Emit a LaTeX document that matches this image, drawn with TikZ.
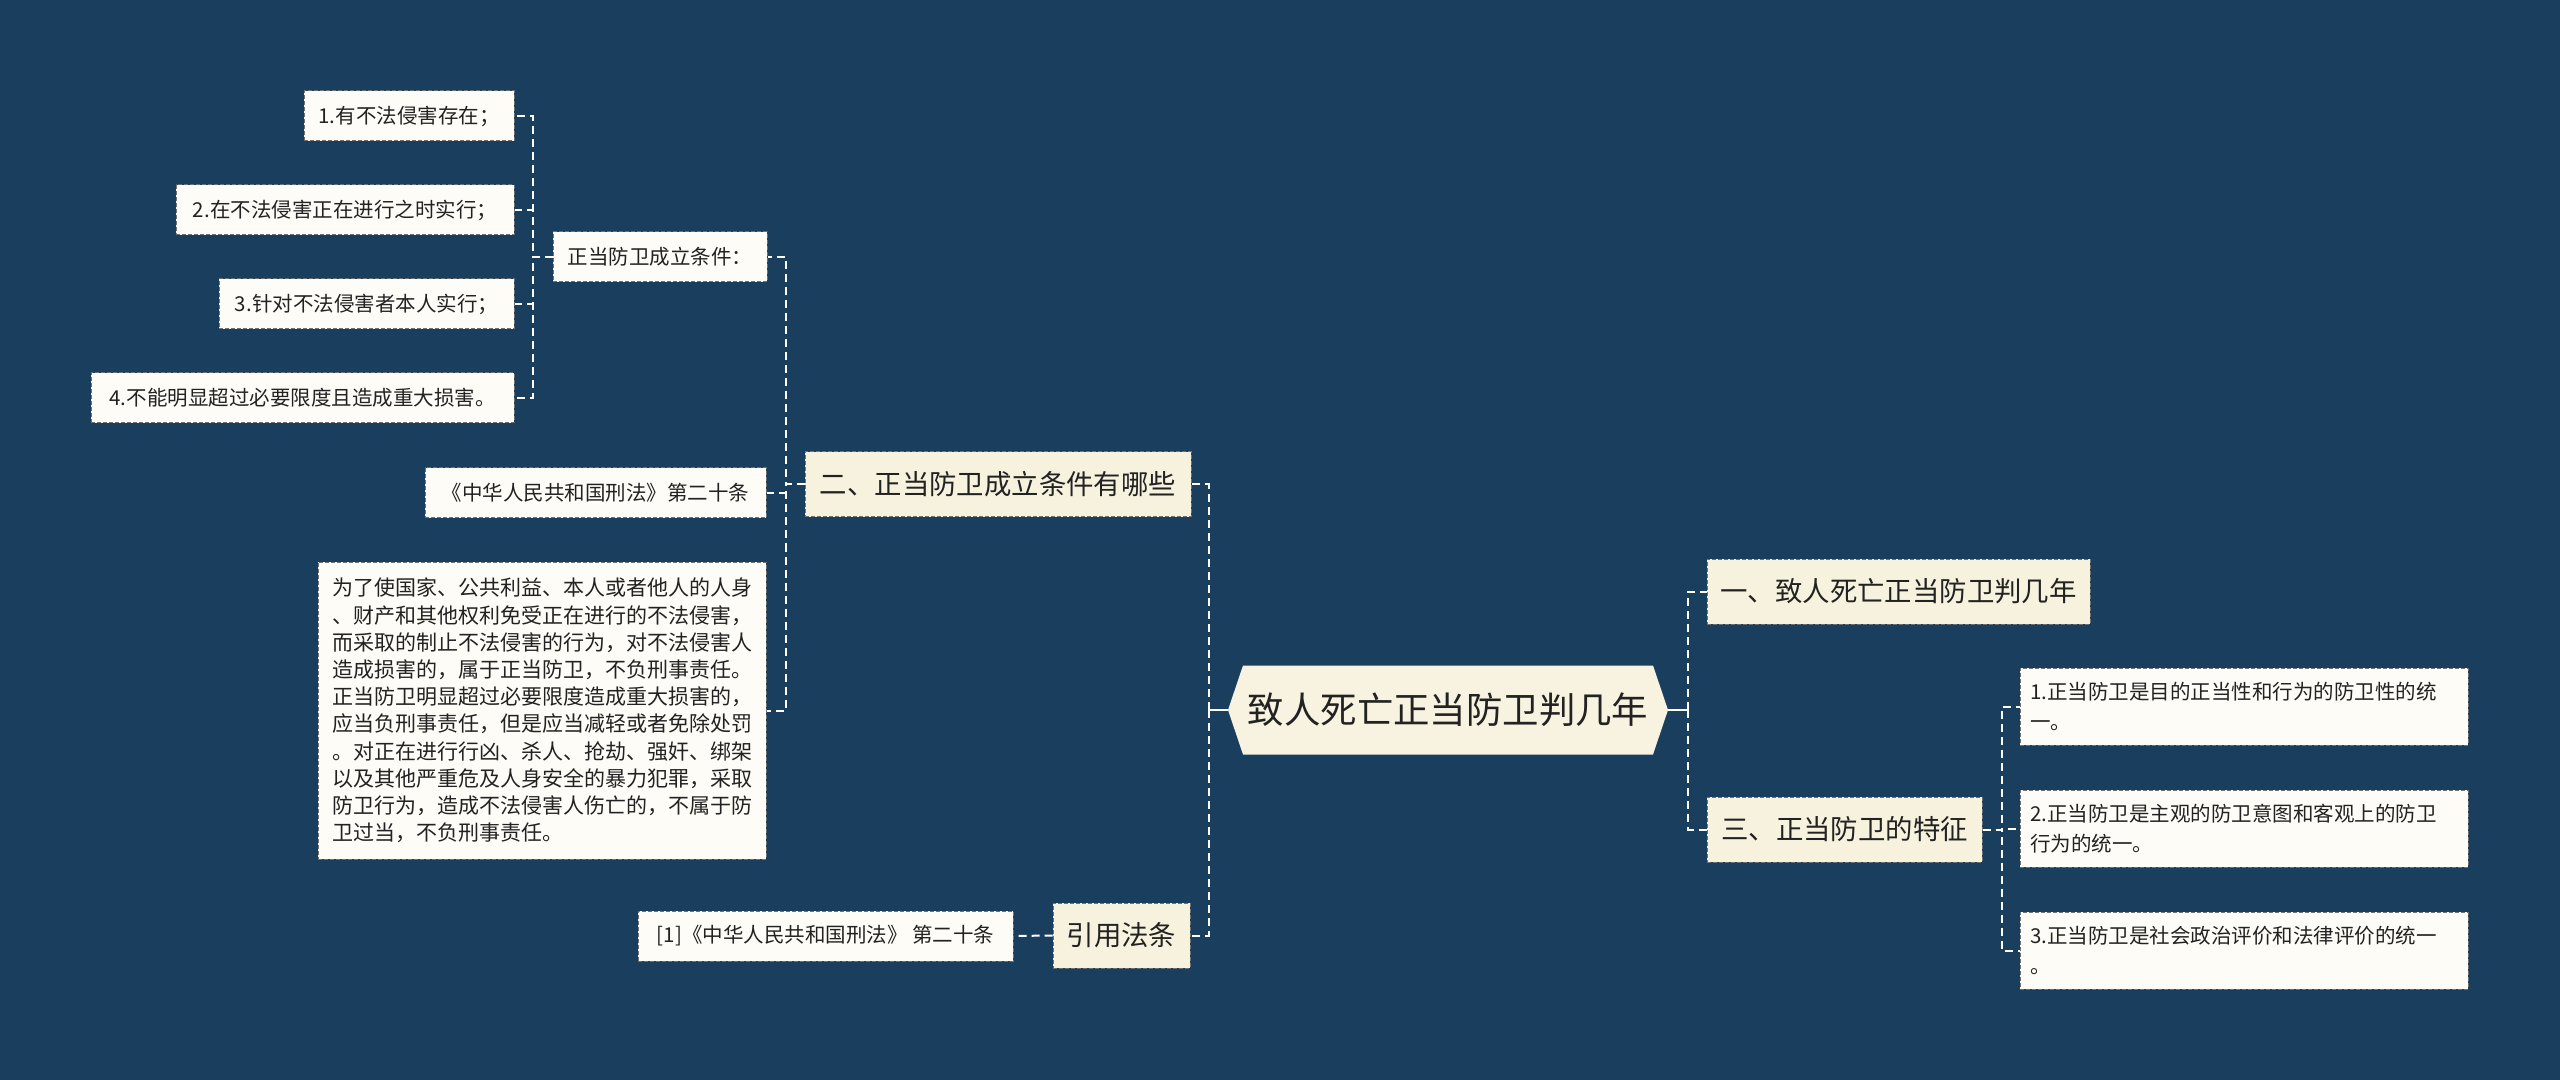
\documentclass[tikz,border=0pt]{standalone}
\usepackage{fontspec}
\setmainfont{Noto Sans CJK SC}
\definecolor{bg}{HTML}{193E5E}
\definecolor{leaffill}{HTML}{FDFCF6}
\definecolor{lvlfill}{HTML}{F7F2DE}
\definecolor{rootfill}{HTML}{F8F3E0}
\definecolor{textc}{HTML}{222222}
\definecolor{edgec}{HTML}{707070}
\tikzset{
  boxbase/.style={draw=edgec, line width=0.5pt, dash pattern=on 2pt off 1pt, text=textc, inner sep=0pt},
  leaf/.style={boxbase, fill=leaffill, minimum height=25pt, font=\fontsize{10.25pt}{13.6pt}\selectfont},
  lvl/.style={boxbase, fill=lvlfill, minimum height=32.5pt, font=\fontsize{13.7pt}{16pt}\selectfont},
  twoline/.style={leaf, minimum width=224pt, minimum height=38.5pt, text width=214pt, align=left, font=\fontsize{10.25pt}{15pt}\selectfont},
  rootnode/.style={text=textc, inner sep=0pt, minimum width=220pt, minimum height=44.5pt, font=\fontsize{18.2pt}{20pt}\selectfont},
  conn/.style={draw=white, line width=1pt, dash pattern=on 4pt off 2.5pt},
  solidconn/.style={draw=white, line width=1pt}
}
\begin{document}
\begin{tikzpicture}[x=0.5pt,y=-0.5pt]
\fill[bg] (0,0) rectangle (2560,1080);
\useasboundingbox (0,0) rectangle (2560,1080);

% central node
\fill[rootfill] (1228,710) -- (1243,665.5) -- (1653,665.5) -- (1668,710) -- (1653,754.5) -- (1243,754.5) -- cycle;
\node[rootnode] (root) at (1448,710) {致人死亡正当防卫判几年};

% left level 1
\node[lvl, minimum width=193pt] (b2) at (998,484.5) {二、正当防卫成立条件有哪些};
\node[lvl, minimum width=68.5pt] (b3) at (1121.5,935.5) {引用法条};

% left level 2
\node[leaf, minimum width=107pt] (s1) at (660,257) {正当防卫成立条件：};
\node[leaf, minimum width=170.5pt] (s2) at (595.5,493) {《中华人民共和国刑法》第二十条};
\node[leaf, minimum width=224pt, minimum height=148.5pt, align=left, font=\fontsize{10.5pt}{13.6pt}\selectfont] (s3) at (542,710.5) {为了使国家、公共利益、本人或者他人的人身\\、财产和其他权利免受正在进行的不法侵害，\\而采取的制止不法侵害的行为，对不法侵害人\\造成损害的，属于正当防卫，不负刑事责任。\\正当防卫明显超过必要限度造成重大损害的，\\应当负刑事责任，但是应当减轻或者免除处罚\\。对正在进行行凶、杀人、抢劫、强奸、绑架\\以及其他严重危及人身安全的暴力犯罪，采取\\防卫行为，造成不法侵害人伤亡的，不属于防\\卫过当，不负刑事责任。};
\node[leaf, minimum width=187.5pt] (s4) at (825.5,936) {[1]《中华人民共和国刑法》 第二十条};

% left level 3
\node[leaf, minimum width=105pt] (c1) at (409,116) {1.有不法侵害存在；};
\node[leaf, minimum width=169pt] (c2) at (345,210) {2.在不法侵害正在进行之时实行；};
\node[leaf, minimum width=147.5pt] (c3) at (366.5,304) {3.针对不法侵害者本人实行；};
\node[leaf, minimum width=211.5pt] (c4) at (302.5,398) {4.不能明显超过必要限度且造成重大损害。};

% right level 1
\node[lvl, minimum width=191.5pt] (r1) at (1898.5,591.5) {一、致人死亡正当防卫判几年};
\node[lvl, minimum width=137.5pt] (r3) at (1844.5,829.5) {三、正当防卫的特征};

% right level 2
\node[twoline] (t1) at (2244,706.5) {1.正当防卫是目的正当性和行为的防卫性的统\\一。};
\node[twoline] (t2) at (2244,828.5) {2.正当防卫是主观的防卫意图和客观上的防卫\\行为的统一。};
\node[twoline] (t3) at (2244,950.5) {3.正当防卫是社会政治评价和法律评价的统一\\。};

% connectors: root
\draw[solidconn] (root.west) -- ++(-19,0);
\draw[conn] (root.west) ++(-19,0) |- (b2.east);
\draw[conn] (root.west) ++(-19,0) |- (b3.east);
\draw[solidconn] (root.east) -- ++(20,0);
\draw[conn] (root.east) ++(20,0) |- (r1.west);
\draw[conn] (root.east) ++(20,0) |- (r3.west);

% b2 children
\draw[conn] (b2.west) -- ++(-19,0) |- (s1.east);
\draw[conn] (b2.west) -- ++(-19,0) |- (s2.east);
\draw[conn] (b2.west) -- ++(-19,0) |- (s3.east);

% s1 children
\draw[conn] (s1.west) -- ++(-20,0) |- (c1.east);
\draw[conn] (s1.west) -- ++(-20,0) |- (c2.east);
\draw[conn] (s1.west) -- ++(-20,0) |- (c3.east);
\draw[conn] (s1.west) -- ++(-20,0) |- (c4.east);

% b3 child
\draw[conn] (b3.west) -- (s4.east);

% r3 children
\draw[conn] (r3.east) -- ++(19,0) |- (t1.west);
\draw[conn] (r3.east) -- ++(19,0) |- (t2.west);
\draw[conn] (r3.east) -- ++(19,0) |- (t3.west);
\end{tikzpicture}
\end{document}
